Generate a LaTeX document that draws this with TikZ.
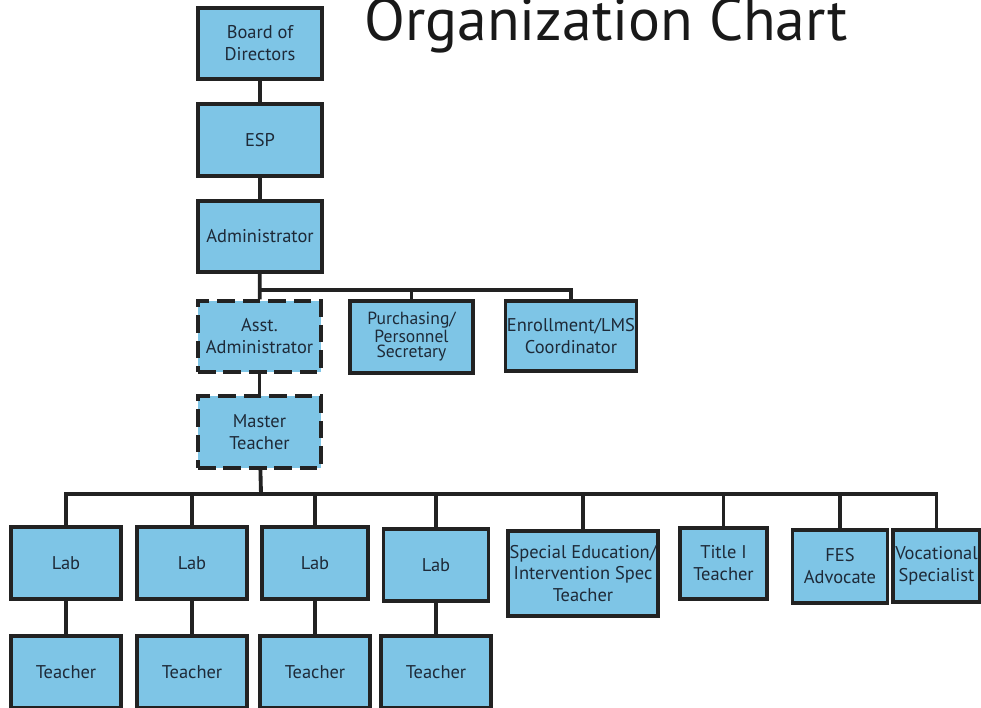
\documentclass[tikz,border=0pt]{standalone}
\usepackage{fontspec}
\setmainfont{PT Sans}

\definecolor{boxblue}{RGB}{126,197,230}
\definecolor{boxline}{RGB}{34,34,34}
\definecolor{boxtext}{RGB}{30,42,56}

\begin{document}
\begin{tikzpicture}[x=0.02cm, y=-0.02cm,
    box/.style={draw=boxline, fill=boxblue, line width=1.8pt, text=boxtext,
        align=center, inner sep=1pt, font=\fontsize{10.5}{12.5}\selectfont},
    boxsize/.style 2 args={minimum width=#1*0.02cm, minimum height=#2*0.02cm},
    tentative/.style={dash pattern=on 10pt off 4.5pt},
    link/.style={draw=boxline, line width=2.2pt}]

    \useasboundingbox (0,0) rectangle (981,707);
    \clip (0,0) rectangle (981,707);

    \node [anchor=base, font=\fontsize{34}{38}\selectfont, text=black!90] (heading) at (606,40) {Organization Chart};

    % top of the chart
    \node [box, boxsize={124}{71}] (bod) at (260,43.5) {Board of\\Directors};
    \node [box, boxsize={124}{72}] (esp) at (260,140) {ESP};
    \node [box, boxsize={124}{71}] (admin) at (260,236.5) {Administrator};

    \draw [link] (bod) -- (esp);
    \draw [link] (esp) -- (admin);

    % staff under the administrator
    \node [box, tentative, boxsize={123}{71}] (asst) at (259.5,336.5) {Asst.\\Administrator};
    \node [box, boxsize={123}{72}, font=\fontsize{10}{8.6}\selectfont] (purch) at (411.5,337) {Purchasing/\\Personnel\\Secretary};
    \node [box, boxsize={124}{70}] (enroll) at (571,336) {Enrollment/LMS\\Coordinator};
    \node [box, tentative, boxsize={123}{72}] (master) at (259.5,432) {Master\\Teacher};

    \coordinate (adminbus) at (260,290);
    \draw [link] (admin) -- (asst);
    \draw [link] (adminbus) -| (purch);
    \draw [link] (adminbus) -| (enroll);
    \draw [link] (asst) -- (master);

    % labs with their teachers
    \node [box, boxsize={110}{72}] (lab1) at (66,563) {Lab};
    \node [box, boxsize={110}{72}] (lab2) at (192,563) {Lab};
    \node [box, boxsize={106}{72}] (lab3) at (315,563) {Lab};
    \node [box, boxsize={105}{72}] (lab4) at (436,565) {Lab};

    \node [box, boxsize={110}{72}] (teacher1) at (66,672) {Teacher};
    \node [box, boxsize={110}{72}] (teacher2) at (192,672) {Teacher};
    \node [box, boxsize={110}{72}] (teacher3) at (315,672) {Teacher};
    \node [box, boxsize={110}{72}] (teacher4) at (436,672) {Teacher};

    % other positions
    \node [box, boxsize={142}{85}] (sped) at (583,573.5) {Special Education/\\Intervention Spec\\Teacher};
    \node [box, boxsize={87}{71}] (titleone) at (723.5,563.5) {Title I\\Teacher};
    \node [box, boxsize={95}{73}] (fes) at (840,566.5) {FES\\Advocate};
    \node [box, boxsize={87}{72}] (voc) at (936.5,566) {Vocational\\Specialist};

    \coordinate (labbus) at (261,494);
    \draw [link] (master) -- (labbus);
    \foreach \n in {lab1, lab2, lab3, lab4, sped, titleone, fes, voc}
        \draw [link] (labbus) -| (\n);
    \foreach \i in {1,...,4}
        \draw [link] (lab\i) -- (teacher\i);
\end{tikzpicture}
\end{document}
